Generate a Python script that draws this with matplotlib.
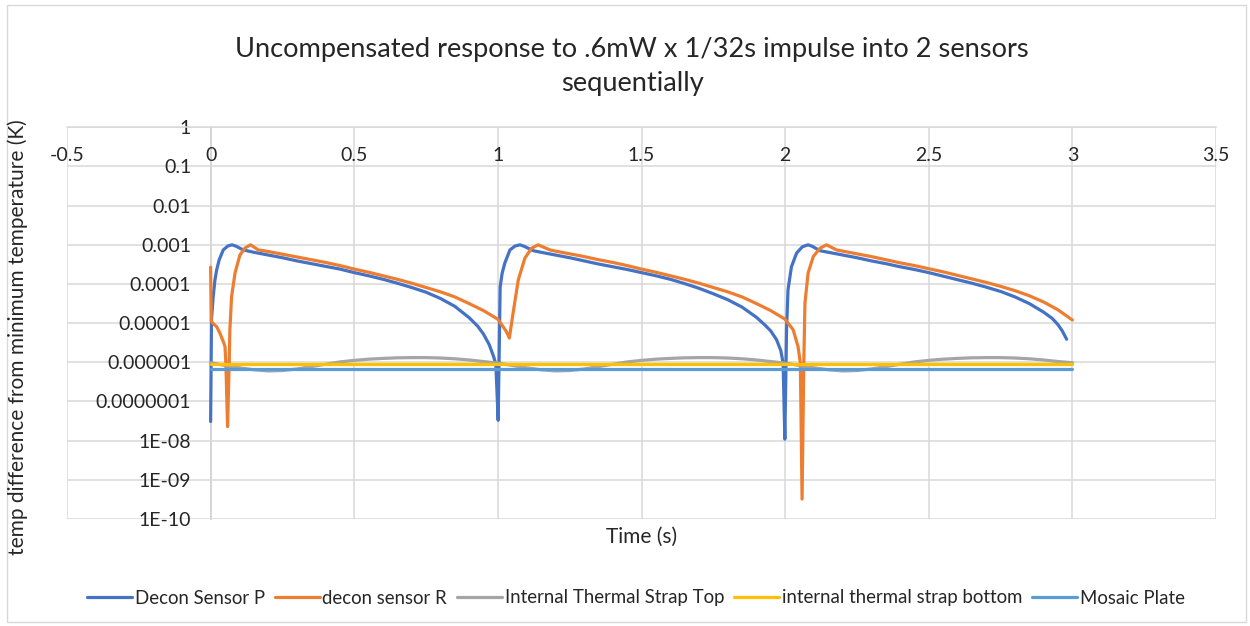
import numpy as np
import matplotlib
matplotlib.use("Agg")
import matplotlib.pyplot as plt
from matplotlib.patches import Rectangle

plt.rcParams["font.family"] = ["Lato", "DejaVu Sans"]

# ---- data (y values as log10 of K) ----
t_p = [0.000, 0.003, 0.009, 0.015, 0.021, 0.030, 0.044, 0.060, 0.075, 0.090,
       0.113, 0.150, 0.200, 0.250, 0.300, 0.350, 0.400, 0.450, 0.500, 0.550,
       0.600, 0.650, 0.700, 0.750, 0.800, 0.850, 0.900, 0.930, 0.950, 0.970,
       0.985, 0.993, 1.001,
       1.008, 1.015, 1.024, 1.042, 1.060, 1.077, 1.092, 1.123, 1.150, 1.200,
       1.250, 1.300, 1.350, 1.400, 1.450, 1.500, 1.550, 1.600, 1.650, 1.700,
       1.750, 1.800, 1.850, 1.900, 1.930, 1.950, 1.970, 1.985, 1.993, 1.999,
       2.005, 2.010, 2.022, 2.040, 2.060, 2.080, 2.095, 2.121, 2.150, 2.200,
       2.250, 2.300, 2.350, 2.400, 2.450, 2.500, 2.550, 2.600, 2.650, 2.700,
       2.750, 2.800, 2.850, 2.900, 2.930, 2.950, 2.965, 2.980]
decon_p_log = [-7.51, -4.90, -4.32, -3.90, -3.64, -3.38, -3.13, -3.03, -3.00, -3.04,
               -3.13, -3.19, -3.26, -3.33, -3.41, -3.48, -3.55, -3.62, -3.71, -3.79,
               -3.88, -3.98, -4.09, -4.21, -4.37, -4.57, -4.86, -5.08, -5.28, -5.55,
               -5.85, -6.05, -7.48,
               -4.07, -3.72, -3.47, -3.13, -3.03, -3.00, -3.04, -3.15, -3.19, -3.26,
               -3.33, -3.41, -3.49, -3.56, -3.63, -3.71, -3.79, -3.88, -3.99, -4.11,
               -4.25, -4.40, -4.59, -4.85, -5.05, -5.20, -5.42, -5.70, -6.02, -7.96,
               -5.17, -4.15, -3.56, -3.21, -3.05, -3.00, -3.04, -3.15, -3.19, -3.26,
               -3.33, -3.41, -3.48, -3.56, -3.63, -3.71, -3.80, -3.89, -3.98, -4.08,
               -4.19, -4.33, -4.50, -4.72, -4.88, -5.04, -5.20, -5.41]

t_r = [0.000, 0.002, 0.010, 0.021, 0.032, 0.044, 0.050, 0.053, 0.059, 0.064,
       0.067, 0.073, 0.085, 0.102, 0.120, 0.139, 0.166, 0.200, 0.250, 0.300,
       0.350, 0.400, 0.450, 0.500, 0.550, 0.600, 0.650, 0.700, 0.750, 0.800,
       0.850, 0.900, 0.950, 1.000, 1.018, 1.030, 1.040, 1.053, 1.071, 1.094,
       1.117, 1.140, 1.181,
       1.200, 1.250, 1.300, 1.350, 1.400, 1.450, 1.500, 1.550, 1.600, 1.650,
       1.700, 1.750, 1.800, 1.850, 1.900, 1.950, 2.000, 2.028, 2.045, 2.053,
       2.059, 2.065, 2.069, 2.080, 2.098, 2.121, 2.144, 2.179,
       2.200, 2.250, 2.300, 2.350, 2.400, 2.450, 2.500, 2.550, 2.600, 2.650,
       2.700, 2.750, 2.800, 2.850, 2.900, 2.950, 3.000]
decon_r_log = [-3.57, -4.95, -5.02, -5.09, -5.25, -5.47, -5.60, -6.00, -7.64, -6.20,
               -5.17, -4.32, -3.72, -3.26, -3.08, -3.00, -3.13, -3.17, -3.24, -3.31,
               -3.38, -3.45, -3.53, -3.62, -3.70, -3.79, -3.88, -3.98, -4.09, -4.20,
               -4.33, -4.50, -4.68, -4.90, -5.09, -5.22, -5.38, -4.74, -3.90, -3.34,
               -3.09, -3.00, -3.13,
               -3.16, -3.23, -3.30, -3.38, -3.45, -3.53, -3.62, -3.70, -3.79, -3.88,
               -3.98, -4.09, -4.20, -4.33, -4.50, -4.68, -4.90, -5.17, -5.60, -6.02,
               -9.49, -6.02, -4.49, -3.72, -3.30, -3.09, -3.00, -3.13,
               -3.16, -3.23, -3.30, -3.38, -3.46, -3.53, -3.61, -3.69, -3.78, -3.87,
               -3.96, -4.06, -4.17, -4.30, -4.46, -4.66, -4.92]

t_strap_top = [0.00, 0.05, 0.10, 0.15, 0.20, 0.25, 0.30, 0.35, 0.40, 0.45,
               0.50, 0.55, 0.60, 0.65, 0.70, 0.75, 0.80, 0.85, 0.90, 0.95,
               1.00, 1.05, 1.10, 1.15, 1.20, 1.25, 1.30, 1.35, 1.40, 1.45,
               1.50, 1.55, 1.60, 1.65, 1.70, 1.75, 1.80, 1.85, 1.90, 1.95,
               2.00, 2.05, 2.10, 2.15, 2.20, 2.25, 2.30, 2.35, 2.40, 2.45,
               2.50, 2.55, 2.60, 2.65, 2.70, 2.75, 2.80, 2.85, 2.90, 2.95, 3.00]
strap_top_log = [-6.01, -6.08, -6.14, -6.19, -6.22, -6.21, -6.17, -6.11, -6.05, -5.99,
                 -5.95, -5.92, -5.90, -5.885, -5.88, -5.88, -5.89, -5.91, -5.94, -5.98,
                 -6.02, -6.08, -6.14, -6.19, -6.22, -6.21, -6.17, -6.11, -6.05, -5.99,
                 -5.95, -5.92, -5.90, -5.885, -5.88, -5.88, -5.89, -5.91, -5.94, -5.98,
                 -6.02, -6.08, -6.14, -6.19, -6.22, -6.21, -6.17, -6.11, -6.05, -5.99,
                 -5.95, -5.92, -5.90, -5.885, -5.88, -5.88, -5.89, -5.91, -5.94, -5.98, -6.01]

t_flat = [0.0, 3.0]
strap_bottom_log = [-6.04, -6.04]
mosaic_log = [-6.17, -6.17]

xticks = [-0.5, 0, 0.5, 1, 1.5, 2, 2.5, 3, 3.5]
xtick_labels = ["-0.5", "0", "0.5", "1", "1.5", "2", "2.5", "3", "3.5"]
yticks = [1, 1e-1, 1e-2, 1e-3, 1e-4, 1e-5, 1e-6, 1e-7, 1e-8, 1e-9, 1e-10]
ytick_labels = ["1", "0.1", "0.01", "0.001", "0.0001", "0.00001", "0.000001",
                "0.0000001", "1E-08", "1E-09", "1E-10"]

series = [
    ("Decon Sensor P", t_p, decon_p_log, "#4472C4"),
    ("decon sensor R", t_r, decon_r_log, "#ED7D31"),
    ("Internal Thermal Strap Top", t_strap_top, strap_top_log, "#A5A5A5"),
    ("internal thermal strap bottom", t_flat, strap_bottom_log, "#FFC000"),
    ("Mosaic Plate", t_flat, mosaic_log, "#5B9BD5"),
]

W, H = 1250, 626
fig = plt.figure(figsize=(W / 100, H / 100), dpi=100)
ax = fig.add_axes([67 / W, 1 - 519 / H, (1216 - 67) / W, (519 - 127.3) / H])

for name, t, v, c in series:
    ax.plot(t, 10.0 ** np.array(v), color=c, lw=2.3, label=name,
            solid_capstyle="round", solid_joinstyle="round")

ax.set_yscale("log")
ax.set_xlim(-0.5, 3.5)
ax.set_ylim(1e-10, 1)
ax.set_xticks(xticks)
ax.set_xticklabels(xtick_labels)
ax.set_yticks(yticks)
ax.set_yticklabels(ytick_labels)
ax.minorticks_off()
ax.grid(True, color="#D9D9D9", lw=1.1)
ax.set_axisbelow(True)

for s in ["right", "top"]:
    ax.spines[s].set_visible(False)
ax.spines["left"].set_position(("data", 0))
ax.spines["left"].set_color("#BFBFBF")
ax.spines["left"].set_linewidth(1.1)
ax.spines["bottom"].set_position(("data", 1))
ax.spines["bottom"].set_color("#D9D9D9")
ax.spines["bottom"].set_linewidth(1.1)
ax.spines["left"].set_zorder(0.5)
ax.tick_params(axis="both", length=0, labelsize=14, labelcolor="#262626")
ax.tick_params(axis="y", pad=14)
ax.tick_params(axis="x", pad=14)

fig.text(632 / W, 1 - 49 / H, "Uncompensated response to .6mW x 1/32s impulse into 2 sensors",
         ha="center", va="center", fontsize=19.6, color="#262626")
fig.text(632 / W, 1 - 84 / H, "sequentially",
         ha="center", va="center", fontsize=19.6, color="#262626")
fig.text(18 / W, 1 - 337 / H, "temp difference from minimum temperature (K)",
         ha="center", va="center", rotation=90, fontsize=15, color="#262626")
fig.text(642 / W, 1 - 537 / H, "Time (s)", ha="center", va="center",
         fontsize=15, color="#262626")

fig.legend(loc="center", bbox_to_anchor=(636 / W, 1 - 598 / H), ncol=5, frameon=False,
           fontsize=13.4, handlelength=2.4, handletextpad=0.15, columnspacing=0.55,
           labelcolor="#262626")

fig.patches.append(Rectangle((7 / W, 4 / H), (1246 - 7) / W, (621 - 4) / H,
                             transform=fig.transFigure, fill=False,
                             edgecolor="#D9D9D9", lw=1))

fig.savefig("out.png", dpi=100)
